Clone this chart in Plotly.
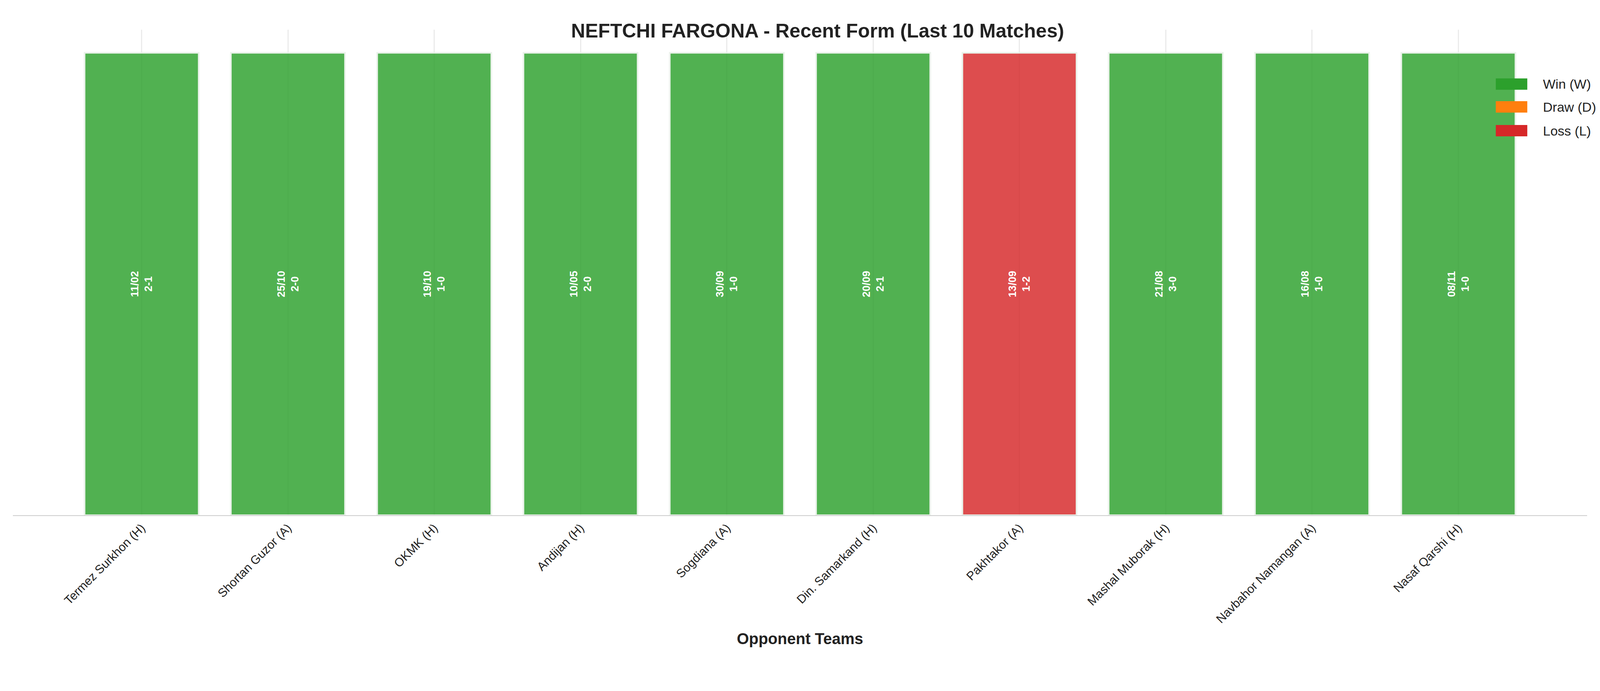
import plotly.graph_objects as go

opponents = ["Termez Surkhon (H)", "Shortan Guzor (A)", "OKMK (H)", "Andijan (H)", "Sogdiana (A)",
             "Din. Samarkand (H)", "Pakhtakor (A)", "Mashal Muborak (H)", "Navbahor Namangan (A)", "Nasaf Qarshi (H)"]
dates = ["11/02", "25/10", "19/10", "10/05", "30/09", "20/09", "13/09", "21/08", "16/08", "08/11"]
scores = ["2-1", "2-0", "1-0", "2-0", "1-0", "2-1", "1-2", "3-0", "1-0", "1-0"]
results = ["W", "W", "W", "W", "W", "W", "L", "W", "W", "W"]

colors = {"W": "#2ca02c", "D": "#ff7f0e", "L": "#d62728"}
legend_keys = ["W", "D", "L"]
legend_names = ["Win (W)", "Draw (D)", "Loss (L)"]

fig = go.Figure()
fig.add_trace(go.Bar(
    x=list(range(len(opponents))),
    y=[1] * len(opponents),
    width=0.78,
    marker=dict(color=[colors[r] for r in results], opacity=0.82,
                line=dict(color="rgba(230,240,230,1)", width=4)),
    text=[d + "<br>" + s for d, s in zip(dates, scores)],
    textposition="inside",
    insidetextanchor="middle",
    textangle=-90,
    textfont=dict(family="Liberation Sans", size=27, color="white", weight="bold"),
    showlegend=False,
    hoverinfo="skip",
))

# legend drawn by hand so the swatches get matplotlib-like size
leg_y = [0.888, 0.841, 0.792]
for k, name, yy in zip(legend_keys, legend_names, leg_y):
    fig.add_shape(type="rect", xref="paper", yref="paper", x0=0.942, x1=0.962,
                  y0=yy - 0.0117, y1=yy + 0.0117, fillcolor=colors[k], line=dict(width=0))
    fig.add_annotation(xref="paper", yref="paper", x=0.9715, y=yy, text=name, showarrow=False,
                       xanchor="left", yanchor="middle", font=dict(size=34, color="#222222"))

fig.update_layout(
    width=4170, height=1769,
    plot_bgcolor="white", paper_bgcolor="white",
    font=dict(family="Liberation Sans", color="#222222"),
    title=dict(text="<b>NEFTCHI FARGONA - Recent Form (Last 10 Matches)</b>",
               x=0.5, xanchor="center", y=0.97, font=dict(size=50)),
    margin=dict(l=25, r=115, t=68, b=458),
    showlegend=False,
    xaxis=dict(
        tickmode="array", tickvals=list(range(len(opponents))), ticktext=opponents,
        tickangle=-45, tickfont=dict(size=31), range=[-0.88, 9.88],
        showgrid=True, gridcolor="rgba(0,0,0,0.08)", gridwidth=3,
        showline=True, linecolor="#cccccc", linewidth=2, ticks="",
        title=dict(text="<b>Opponent Teams</b>", font=dict(size=40), standoff=20),
    ),
    yaxis=dict(range=[0, 1.05], visible=False),
)

fig.write_html("out.html")
